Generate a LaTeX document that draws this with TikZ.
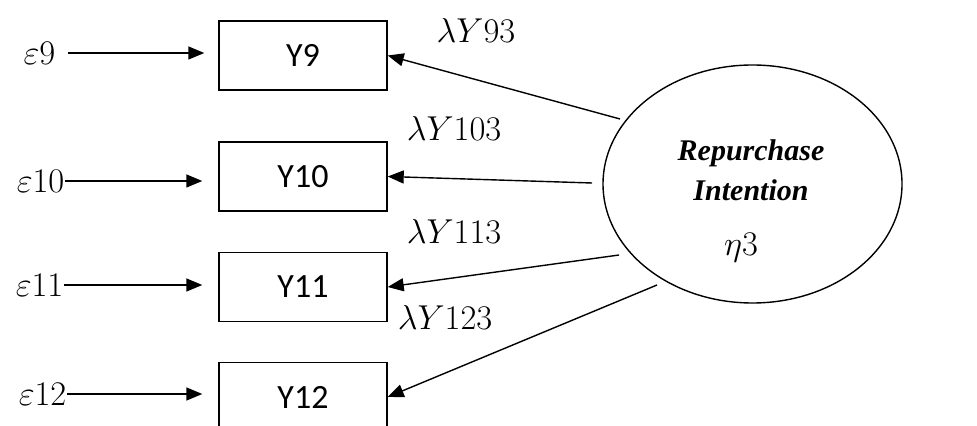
\documentclass[tikz,border=0pt]{standalone}
\usepackage{fontspec}
\newfontfamily\itemfont{Carlito}
\newfontfamily\latentfont{Liberation Serif}
\usetikzlibrary{arrows.meta,shapes.geometric}

\begin{document}
\begin{tikzpicture}[
      x=0.5pt, y=-0.5pt,
      line width=0.7pt,
      item/.style={draw, minimum width=84pt, minimum height=34.5pt, inner sep=0pt,
                   font=\itemfont\fontsize{17}{20}\selectfont},
      err/.style={font=\fontsize{16}{19}\selectfont, inner sep=0pt},
      load/.style={font=\fontsize{16}{19}\selectfont, inner sep=0pt},
      latent/.style={draw, ellipse, minimum width=149.5pt, minimum height=119pt,
                     inner sep=0pt},
      latentname/.style={font=\latentfont\bfseries\itshape\fontsize{15}{20}\selectfont,
                   align=center, inner sep=0pt},
      >={Triangle[length=8pt,width=6.5pt]}]

    \useasboundingbox (0,0) rectangle (977,426);

    % indicators
    \node[item] (y9)  at (303,55.5)  {Y9};
    \node[item] (y10) at (303,176.5) {Y10};
    \node[item] (y11) at (303,287)   {Y11};
    \node[item] (y12) at (303,397)   {Y12};

    % error terms
    \node[err, anchor=east] (e9)  at (56,53)  {$\varepsilon9$};
    \node[err, anchor=east] (e10) at (65,181) {$\varepsilon10$};
    \node[err, anchor=east] (e11) at (64,285) {$\varepsilon11$};
    \node[err, anchor=east] (e12) at (67,394) {$\varepsilon12$};
    \draw[->, shorten <=6pt, shorten >=7pt] (e9.east) -- (e9.east -| y9.west);
    \draw[->, shorten >=8pt] (e10.east) -- (e10.east -| y10.west);
    \draw[->, shorten >=8pt] (e11.east) -- (e11.east -| y11.west);
    \draw[->, shorten >=8pt] (e12.east) -- (e12.east -| y12.west);

    % latent variable
    \node[latent] (eta) at (752.5,184) {};
    \node[latentname] (etaname) at (751,170) {Repurchase\\Intention};
    \node[load] (eta3) at (741,248) {$\eta3$};

    % loadings
    \coordinate (s9)  at (620,119);
    \coordinate (s10) at (592,183);
    \coordinate (s11) at (619,255);
    \coordinate (s12) at (657,285);
    \draw[->] (s9)  -- (y9.east);
    \draw[->] (s10) -- (y10.east);
    \draw[->] (s11) -- (y11.east);
    \draw[->] (s12) -- (y12.east);

    \node[load] (l9)  at (476,31)  {$\lambda Y93$};
    \node[load] (l10) at (454,129) {$\lambda Y103$};
    \node[load] (l11) at (454,232) {$\lambda Y113$};
    \node[load] (l12) at (445,317) {$\lambda Y123$};
  \end{tikzpicture}
\end{document}
